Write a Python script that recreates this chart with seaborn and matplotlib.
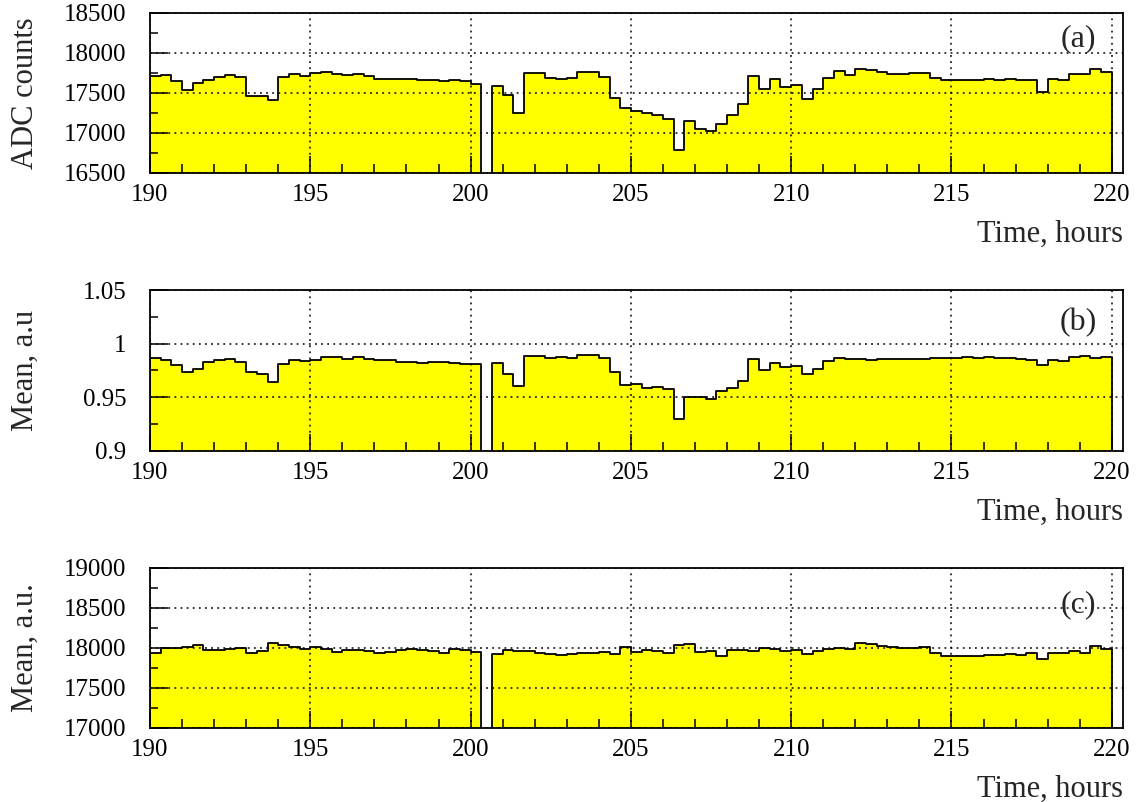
import matplotlib
matplotlib.use("Agg")
import matplotlib.pyplot as plt
import numpy as np
import pandas as pd
import seaborn as sns
from matplotlib.ticker import MultipleLocator, FuncFormatter

# 20-minute bins from 190 h to 220 h; 0 marks the empty bin
BIN_START = 190.0
BIN_WIDTH = 1.0 / 3.0
N_BINS = 90

adc_counts = [
    17712, 17721, 17650, 17533, 17621, 17667, 17704, 17721, 17696, 17458,
    17467, 17408, 17696, 17733, 17708, 17746, 17758, 17733, 17725, 17742,
    17708, 17671, 17675, 17671, 17675, 17662, 17667, 17654, 17667, 17650,
    17608, 0, 17592, 17479, 17246, 17754, 17746, 17683, 17679, 17688,
    17763, 17763, 17700, 17442, 17313, 17275, 17250, 17229, 17171, 16788,
    17154, 17046, 17029, 17117, 17221, 17358, 17708, 17550, 17679, 17571,
    17604, 17421, 17546, 17692, 17771, 17725, 17804, 17783, 17767, 17733,
    17738, 17746, 17746, 17692, 17662, 17658, 17667, 17658, 17675, 17667,
    17679, 17658, 17658, 17508, 17671, 17658, 17738, 17738, 17796, 17767,
]

mean_norm = [
    0.9870, 0.9845, 0.9804, 0.9736, 0.9764, 0.9826, 0.9845, 0.9854, 0.9826, 0.9736,
    0.9720, 0.9640, 0.9807, 0.9845, 0.9838, 0.9851, 0.9876, 0.9873, 0.9860, 0.9876,
    0.9860, 0.9848, 0.9848, 0.9829, 0.9826, 0.9823, 0.9829, 0.9829, 0.9817, 0.9814,
    0.9811, 0, 0.9817, 0.9720, 0.9609, 0.9882, 0.9885, 0.9870, 0.9873, 0.9870,
    0.9891, 0.9891, 0.9863, 0.9739, 0.9618, 0.9627, 0.9590, 0.9593, 0.9574, 0.9301,
    0.9500, 0.9500, 0.9481, 0.9562, 0.9590, 0.9649, 0.9854, 0.9752, 0.9820, 0.9786,
    0.9795, 0.9717, 0.9764, 0.9835, 0.9866, 0.9860, 0.9860, 0.9845, 0.9857, 0.9854,
    0.9857, 0.9857, 0.9854, 0.9870, 0.9870, 0.9870, 0.9876, 0.9870, 0.9873, 0.9870,
    0.9863, 0.9854, 0.9848, 0.9804, 0.9848, 0.9842, 0.9873, 0.9882, 0.9870, 0.9876,
]

mean_corr = [
    17938, 17996, 18000, 18008, 18038, 17975, 17975, 17988, 18000, 17938,
    17967, 18063, 18042, 18008, 17983, 18008, 17992, 17950, 17971, 17971,
    17958, 17942, 17950, 17975, 17983, 17975, 17967, 17942, 17988, 17975,
    17946, 0, 17929, 17975, 17958, 17963, 17942, 17925, 17913, 17929,
    17938, 17938, 17946, 17921, 18008, 17946, 17979, 17958, 17938, 18042,
    18054, 17946, 17958, 17904, 17971, 17979, 17967, 17996, 17992, 17958,
    17971, 17925, 17967, 17988, 18004, 17983, 18058, 18050, 18029, 18008,
    17996, 17996, 18008, 17938, 17896, 17904, 17896, 17904, 17908, 17913,
    17925, 17917, 17933, 17858, 17938, 17942, 17958, 17942, 18025, 17988,
]

panels = [
    # values, ylabel, ylim, major, tag, tag_y
    (adc_counts, "ADC counts", (16500, 18500), 500, "(a)", 0.84),
    (mean_norm, "Mean, a.u", (0.9, 1.05), 0.05, "(b)", 0.80),
    (mean_corr, "Mean, a.u.", (17000, 19000), 500, "(c)", 0.77),
]

sns.set_style("ticks")
plt.rcParams["font.family"] = ["Liberation Serif", "DejaVu Serif"]

edges = (BIN_START + BIN_WIDTH * np.arange(N_BINS + 1)).tolist()
centers = [e + BIN_WIDTH / 2 for e in edges[:-1]]

fig = plt.figure(figsize=(11.37, 8.02), dpi=100)
bottoms = [0.7843, 0.4377, 0.0923]
heights = [0.1995, 0.2007, 0.1995]

for (vals, ylab, ylim, major, tag, tag_y), b, h in zip(panels, bottoms, heights):
    ax = fig.add_axes([0.1319, b, 0.8558, h])
    df = pd.DataFrame({"hour": centers, "value": vals})
    sns.histplot(data=df, x="hour", weights="value", bins=edges, element="step",
                 fill=True, facecolor="#ffff00", edgecolor="black", linewidth=1.3,
                 alpha=1, ax=ax)
    ax.set_xlim(190, 220.35)
    ax.set_ylim(*ylim)
    ax.xaxis.set_major_locator(MultipleLocator(5))
    ax.xaxis.set_minor_locator(MultipleLocator(1))
    ax.yaxis.set_major_locator(MultipleLocator(major))
    ax.yaxis.set_minor_locator(MultipleLocator(major / 2))
    ax.yaxis.set_major_formatter(FuncFormatter(lambda v, p: f"{v:g}"))
    ax.xaxis.set_major_formatter(FuncFormatter(lambda v, p: f"{v:g}"))
    ax.tick_params(axis="both", which="both", direction="in", colors="black",
                   top=False, right=False, width=1.1)
    ax.tick_params(axis="x", which="major", length=12, pad=8, labelsize=18)
    ax.tick_params(axis="x", which="minor", length=6.5)
    ax.tick_params(axis="y", which="major", length=13, pad=17, labelsize=18)
    ax.tick_params(axis="y", which="minor", length=6)
    ax.set_axisbelow(False)
    ax.grid(True, which="major", color="black", linestyle=(0, (1.2, 2.8)),
            linewidth=1.1)
    for s in ax.spines.values():
        s.set_visible(True)
        s.set_color("black")
        s.set_linewidth(1.3)
    ax.set_xlabel("Time, hours", fontsize=22, loc="right", labelpad=10)
    ax.set_ylabel(ylab, fontsize=22)
    ax.yaxis.set_label_coords(-0.113, 0.5)
    ax.text(0.954, tag_y, tag, transform=ax.transAxes, fontsize=23,
            ha="center", va="center")

fig.savefig("out.png", dpi=100)
